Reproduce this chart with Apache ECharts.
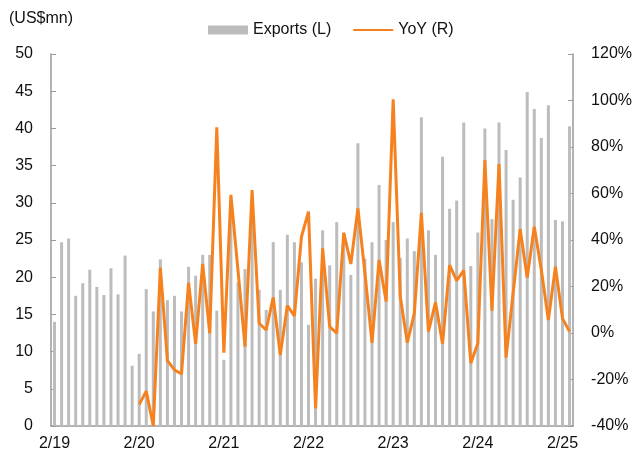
<!DOCTYPE html>
<html>
<head>
<meta charset="utf-8">
<title>Exports</title>
<script src="https://cdn.jsdelivr.net/npm/echarts/dist/echarts.min.js"></script>
<style>
  html, body { margin: 0; padding: 0; background: #fff; }
  #chart { width: 635px; height: 461px; }
</style>
</head>
<body>
<div id="chart"></div>
<script>
// monthly, Feb 2019 - Mar 2025
const startYear = 2019
const startMonth = 2
const monthCount = 74

// exports, US$mn (left axis)
const exportsVal = [
  14.0, 24.7, 25.2, 17.5, 19.2, 21.0, 18.7, 17.6, 21.2, 17.7, 22.9, 8.1,
  9.7, 18.4, 15.4, 22.4, 16.9, 17.5, 15.4, 21.4, 20.2, 23.0, 23.0, 15.5,
  8.9, 29.0, 19.3, 21.1, 29.0, 18.3, 15.6, 24.7, 18.3, 25.7, 24.7, 22.0,
  13.6, 19.8, 26.3, 21.6, 27.4, 26.0, 20.3, 38.0, 22.5, 24.7, 32.4, 25.0,
  27.4, 22.6, 25.2, 23.5, 41.5, 26.3, 23.0, 36.2, 29.2, 30.3, 40.8, 21.5,
  26.0, 40.0, 27.8, 40.8, 37.1, 30.4, 33.4, 44.9, 42.6, 38.7, 43.1, 27.7,
  27.5, 40.3
]

// YoY %, right axis (no value for the first year)
const yoyVal = [
  null, null, null, null, null, null, null, null, null, null, null, null,
  -30.7, -25.0, -40.0, 28.1, -11.9, -15.9, -17.6, 21.6, -4.7, 29.7, -0.1, 88.5,
  -8.5, 59.4, 27.1, -5.9, 61.5, 4.2, 1.3, 15.3, -9.5, 11.8, 7.3, 41.4,
  52.2, -32.4, 36.4, 2.7, -0.1, 43.1, 29.7, 53.6, 25.7, -4.2, 31.4, 13.5,
  100.5, 15.9, -4.2, 8.5, 51.7, 0.6, 13.2, -4.7, 29.2, 22.5, 27.0, -13.0,
  -4.4, 74.4, 9.6, 72.7, -10.6, 17.1, 44.7, 23.8, 45.7, 27.1, 5.6, 28.5,
  6.3, 0.6
]

const leftTicks = { min: 0, max: 50, interval: 5 }
const rightTicks = { min: -40, max: 120, interval: 20 }

// labels like "2/19"
const categories = []
for (let i = 0; i < monthCount; i++) {
  const m = (startMonth - 1 + i) % 12 + 1
  const y = startYear + Math.floor((startMonth - 1 + i) / 12)
  categories.push(m + '/' + String(y).slice(2))
}

const axisColor = '#9a9a9a'
const textColor = '#111'
const font = 'Liberation Sans, Arial, sans-serif'

const chart = echarts.init(document.getElementById('chart'), null, { renderer: 'canvas' })

const option = {
  animation: false,
  textStyle: { fontFamily: font, fontSize: 16, color: textColor },
  grid: { left: 51, right: 58, top: 54, bottom: 35, containLabel: false },
  graphic: [{
    type: 'text',
    left: 9,
    top: 11,
    style: { text: '(US$mn)', font: '16px ' + font, fill: textColor }
  }],
  legend: {
    left: 203,
    top: 17,
    itemWidth: 40,
    itemHeight: 9,
    itemGap: 21,
    textStyle: { fontFamily: font, fontSize: 16, color: textColor },
    data: [
      { name: 'Exports (L)', icon: 'rect' },
      // line only, hide the marker
      { name: 'YoY (R)', itemStyle: { opacity: 0 } }
    ]
  },
  xAxis: {
    type: 'category',
    data: categories,
    boundaryGap: true,
    axisLine: { lineStyle: { color: axisColor, width: 1.5 } },
    axisTick: { inside: true, length: 5, interval: 11, lineStyle: { color: axisColor } },
    axisLabel: { interval: 11, margin: 10, fontSize: 16, color: textColor, fontFamily: font }
  },
  yAxis: [
    {
      type: 'value',
      min: leftTicks.min,
      max: leftTicks.max,
      interval: leftTicks.interval,
      splitLine: { show: false },
      axisLine: { show: true, lineStyle: { color: axisColor, width: 1.5 } },
      axisTick: { show: true, inside: true, length: 5, lineStyle: { color: axisColor } },
      axisLabel: { margin: 18, fontSize: 16, color: textColor, fontFamily: font }
    },
    {
      type: 'value',
      position: 'right',
      min: rightTicks.min,
      max: rightTicks.max,
      interval: rightTicks.interval,
      splitLine: { show: false },
      axisLine: { show: true, lineStyle: { color: axisColor, width: 1.5 } },
      axisTick: { show: true, inside: true, length: 5, lineStyle: { color: axisColor } },
      axisLabel: { margin: 18, fontSize: 16, color: textColor, fontFamily: font, formatter: '{value}%' }
    }
  ],
  series: [
    {
      name: 'Exports (L)',
      type: 'bar',
      yAxisIndex: 0,
      barWidth: 3,
      itemStyle: { color: '#bcbcbc' },
      data: exportsVal
    },
    {
      name: 'YoY (R)',
      type: 'line',
      yAxisIndex: 1,
      symbol: 'none',
      connectNulls: false,
      lineStyle: { color: '#f5821f', width: 3 },
      itemStyle: { color: '#f5821f' },
      data: yoyVal
    }
  ]
}

chart.setOption(option)
</script>
</body>
</html>
